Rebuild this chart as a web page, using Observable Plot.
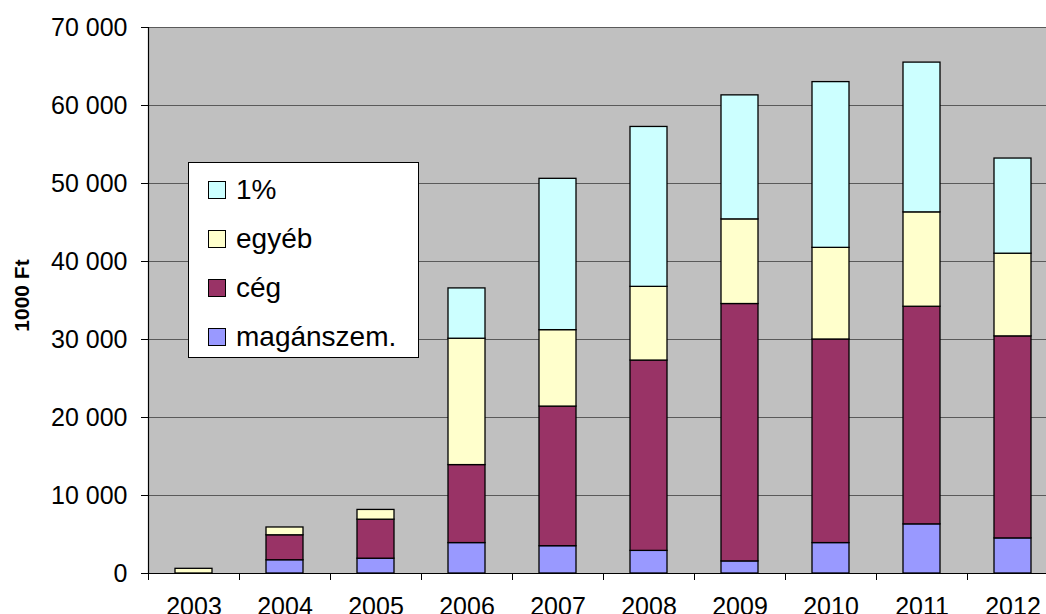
<!DOCTYPE html>
<html><head><meta charset="utf-8">
<script src="https://cdn.jsdelivr.net/npm/d3@7"></script>
<script src="https://cdn.jsdelivr.net/npm/@observablehq/plot@0.6"></script>
<style>
html,body{margin:0;padding:0;background:#fff;overflow:hidden;}
#wrap{position:relative;width:1046px;height:614px;overflow:hidden;font-family:"Liberation Sans",Arial,sans-serif;}
#wrap svg{display:block;max-width:none !important;}
#legend{position:absolute;left:188px;top:162px;width:229px;height:194px;background:#fff;border:1px solid #000;}
.row{position:absolute;left:19px;height:20px;display:flex;align-items:center;font-size:28px;line-height:1;color:#000;white-space:nowrap;}
.sw{width:18px;height:18px;border:1px solid #000;box-sizing:border-box;margin-right:10px;flex:none;}
</style></head><body><div id="wrap"></div>
<script>
const years = ["2003","2004","2005","2006","2007","2008","2009","2010","2011","2012"];
const seriesNames = ["magánszem.","cég","egyéb","1%"];
const seriesColors = ["#9999FF","#993366","#FFFFCC","#CCFFFF"];
const magan  = [0, 1700, 1900, 3900, 3500, 2900, 1550, 3900, 6300, 4500];
const ceg    = [0, 3200, 5000, 10000, 17900, 24400, 33000, 26100, 27900, 25900];
const egyeb  = [600, 1000, 1250, 16200, 9800, 9450, 10850, 11750, 12100, 10600];
const onePct = [0, 0, 0, 6450, 19400, 20500, 15900, 21250, 19200, 12200];
const yTicks = [0, 10000, 20000, 30000, 40000, 50000, 60000, 70000];
const yTitle = "1000 Ft";
const legendOrder = ["1%","egyéb","cég","magánszem."];

const seriesValues = [magan, ceg, egyeb, onePct];
const data = [];
years.forEach((yr, i) => {
  seriesValues.forEach((arr, k) => {
    if (arr[i] > 0) data.push({year: yr, series: seriesNames[k], value: arr[i]});
  });
});
const fmt = d => d3.format(",")(d).replace(/,/g, "\u00a0");
const font = '"Liberation Sans", Arial, sans-serif';

const chart = Plot.plot({
  width: 1060, height: 614,
  marginLeft: 148, marginRight: 2, marginTop: 27, marginBottom: 41,
  style: {fontFamily: font, fontSize: "25px", color: "#000", background: "#fff", overflow: "hidden", maxWidth: "none"},
  x: {domain: years, padding: 0, axis: null, label: null},
  y: {domain: [0, 70000], axis: null, label: null},
  color: {domain: seriesNames, range: seriesColors},
  marks: [
    Plot.frame({fill: "#C0C0C0"}),
    Plot.gridY(yTicks, {stroke: "#5a5a5a", strokeOpacity: 1, strokeWidth: 1.2}),
    Plot.barY(data, {x: "year", y: "value", fill: "series", stroke: "#000", strokeWidth: 1.3, insetLeft: 27, insetRight: 27}),
    Plot.ruleY([0], {stroke: "#000", strokeWidth: 1.2}),
    Plot.ruleX([years[0]], {dx: -45.5, stroke: "#000", strokeWidth: 1.2}),
    Plot.axisY(yTicks, {tickSize: 7, tickPadding: 14, tickFormat: fmt, fontSize: 25, stroke: "#000", label: null}),
    Plot.axisX({tickSize: 0, tickPadding: 24, fontSize: 25, label: null}),
    Plot.axisX({tickSize: 7, tickFormat: () => "", dx: -45.5, stroke: "#000", label: null}),
    Plot.text([yTitle], {frameAnchor: "left", dx: -126, dy: -5, rotate: -90, fontWeight: "bold", fontSize: 21, textAnchor: "middle"})
  ]
});
const wrap = document.getElementById("wrap");
wrap.appendChild(chart);

const leg = document.createElement("div");
leg.id = "legend";
const rowCenters = [27, 76, 125, 174];
legendOrder.forEach((name, i) => {
  const row = document.createElement("div");
  row.className = "row";
  row.style.top = (rowCenters[i] - 10) + "px";
  const sw = document.createElement("div");
  sw.className = "sw";
  sw.style.background = seriesColors[seriesNames.indexOf(name)];
  const t = document.createElement("span");
  t.textContent = name;
  row.appendChild(sw); row.appendChild(t);
  leg.appendChild(row);
});
wrap.appendChild(leg);
</script></body></html>
